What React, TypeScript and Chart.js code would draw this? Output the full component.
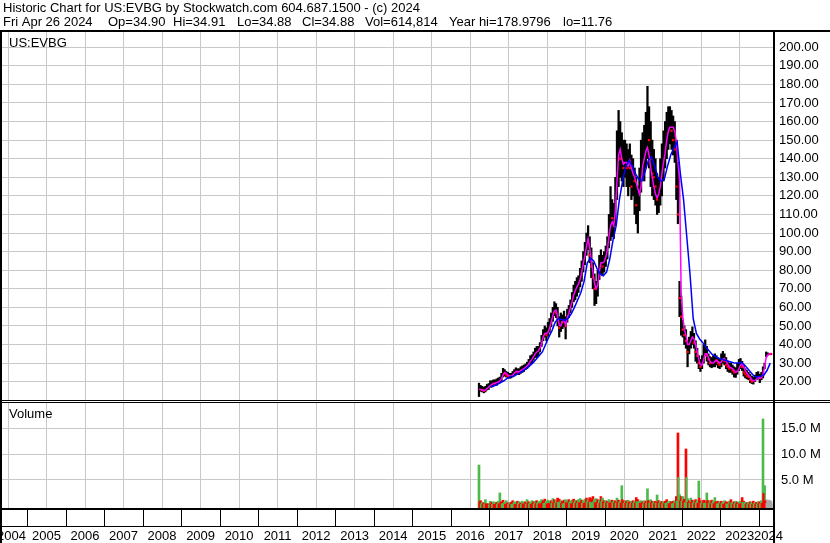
import { useEffect, useRef } from "react";
import { Chart, registerables } from "chart.js";

Chart.register(...registerables);

const FONT = "Arial, 'Liberation Sans', sans-serif";

const headerLine1 = "Historic Chart for US:EVBG by Stockwatch.com 604.687.1500 - (c) 2024";
const quoteItems = ["Fri Apr 26 2024", "Op=34.90", "Hi=34.91", "Lo=34.88", "Cl=34.88", "Vol=614,814", "Year hi=178.9796", "lo=11.76"];
const quoteX = [3, 108, 173, 237, 302, 365, 449, 563];
const symbolLabel = "US:EVBG";
const volumeLabel = "Volume";

const yearLabels = [2004, 2005, 2006, 2007, 2008, 2009, 2010, 2011, 2012, 2013, 2014, 2015, 2016, 2017, 2018, 2019, 2020, 2021, 2022, 2023, 2024];
const priceTicks = [20, 30, 40, 50, 60, 70, 80, 90, 100, 110, 120, 130, 140, 150, 160, 170, 180, 190, 200];
const volumeTicks = [5e6, 10e6, 15e6];

const months = [
  "2016-09", "2016-10", "2016-11", "2016-12",
  "2017-01", "2017-02", "2017-03", "2017-04", "2017-05", "2017-06", "2017-07", "2017-08", "2017-09", "2017-10", "2017-11", "2017-12",
  "2018-01", "2018-02", "2018-03", "2018-04", "2018-05", "2018-06", "2018-07", "2018-08", "2018-09", "2018-10", "2018-11", "2018-12",
  "2019-01", "2019-02", "2019-03", "2019-04", "2019-05", "2019-06", "2019-07", "2019-08", "2019-09", "2019-10", "2019-11", "2019-12",
  "2020-01", "2020-02", "2020-03", "2020-04", "2020-05", "2020-06", "2020-07", "2020-08", "2020-09", "2020-10", "2020-11", "2020-12",
  "2021-01", "2021-02", "2021-03", "2021-04", "2021-05", "2021-06", "2021-07", "2021-08", "2021-09", "2021-10", "2021-11", "2021-12",
  "2022-01", "2022-02", "2022-03", "2022-04", "2022-05", "2022-06", "2022-07", "2022-08", "2022-09", "2022-10", "2022-11", "2022-12",
  "2023-01", "2023-02", "2023-03", "2023-04", "2023-05", "2023-06", "2023-07", "2023-08", "2023-09", "2023-10", "2023-11", "2023-12",
  "2024-01", "2024-02", "2024-03", "2024-04",
];

// two entries (first half / second half) per month
const lows = [
  null, 12.0, 14.8, 14.5, 14.0, 14.5, 15.5, 15.8,
  17.0, 17.5, 18.0, 18.0, 18.0, 19.0, 19.5, 20.5, 22.5, 23.0, 22.5, 22.0, 21.8, 22.0, 22.5, 23.0, 24.0, 24.0, 23.8, 24.5, 25.0, 25.5, 26.5, 27.0,
  28.0, 29.5, 30.0, 31.5, 33.0, 33.0, 34.0, 36.0, 39.0, 42.0, 44.0, 42.0, 44.5, 46.5, 49.5, 52.5, 55.5, 54.5, 50.0, 44.0, 47.0, 48.5, 49.5, 43.0,
  52.0, 54.5, 57.0, 60.0, 63.0, 64.0, 66.0, 68.0, 71.0, 74.0, 79.0, 83.0, 88.0, 91.0, 84.0, 76.0, 70.0, 61.0, 62.0, 66.0, 75.0, 78.0, 77.0, 79.0,
  82.0, 86.0, 92.0, 96.0, 98.0, 97.0, 104.0, 118.0, 125.0, 130.0, 128.0, 125.0, 130.0, 125.0, 120.0, 125.0, 118.0, 120.0, 110.0, 105.0, 100.0, 112.0, 122.0, 130.0,
  128, 135, 140, 135, 125, 120, 118, 115, 110, 111, 115, 120, 128, 135, 140, 145, 148, 145, 142, 138, 118, 105, 55, 45,
  44, 40, 38, 28, 35, 38, 40, 38, 31, 30, 27, 25.5, 27, 30, 34, 31, 29, 28, 27.5, 28, 28, 29, 27.5, 27,
  28, 30, 29, 27, 25.5, 25, 25, 24, 22.5, 22.3, 24, 26, 27, 26, 23, 22, 21.5, 21, 19.5, 19, 18.7, 20, 21, 21.5,
  19.5, 21, 22, 27, 33.5, 34.3, 34.5, 34.6,
];
const highs = [
  null, 19.2, 18.0, 17.5, 17.0, 17.5, 18.5, 19.0,
  20.5, 20.5, 21.0, 21.0, 21.5, 22.0, 22.5, 24.5, 27.2, 26.5, 25.5, 25.0, 24.5, 24.5, 25.5, 26.5, 27.5, 27.0, 27.0, 28.0, 28.5, 29.0, 29.5, 30.5,
  32.0, 34.0, 34.5, 36.0, 38.0, 39.0, 39.0, 41.0, 45.0, 48.0, 50.0, 49.0, 52.0, 54.0, 57.0, 60.0, 63.0, 62.0, 60.0, 55.0, 57.0, 56.0, 58.0, 55.0,
  59.0, 61.0, 64.0, 68.0, 72.0, 74.0, 76.0, 77.0, 81.0, 85.0, 90.0, 95.0, 100.0, 104.0, 98.0, 92.0, 84.0, 78.0, 74.0, 80.0, 88.0, 91.0, 88.0, 90.0,
  93.0, 98.0, 110.0, 125.0, 118.0, 116.0, 130.0, 155.0, 166.0, 160.0, 154.0, 150.0, 150.0, 148.0, 145.0, 148.0, 142.0, 140.0, 135.0, 130.0, 125.0, 135.0, 150.0, 154.0,
  158, 165, 179, 168, 160, 150, 145, 140, 132, 130, 140, 148, 155, 160, 165, 168, 168, 166, 163, 160, 150, 138, 74, 66,
  53, 50, 48, 42, 44, 47, 49.5, 46, 42, 38, 34, 32, 34, 40, 42.5, 39, 35, 33.5, 33, 34, 35, 34, 33, 32,
  35, 36.3, 35, 33, 31, 30, 30, 29, 28, 27.5, 30, 32, 32.5, 31, 29, 27, 26, 25, 24, 23, 22.5, 23.5, 25, 25.4,
  24, 25, 28, 30, 36, 35.5, 35.2, 35.1,
];
const closes = [
  null, 16.0, 16.0, 15.5, 15.0, 16.0, 17.0, 17.5,
  18.8, 19.0, 19.5, 19.0, 20.0, 20.5, 21.0, 23.5, 25.5, 24.5, 23.5, 23.0, 23.0, 23.5, 24.5, 25.5, 26.0, 25.0, 26.0, 26.5, 27.0, 28.0, 28.5, 29.5,
  30.5, 32.0, 33.0, 34.5, 36.0, 37.0, 37.0, 39.5, 43.0, 46.0, 47.0, 45.0, 49.0, 51.0, 55.0, 57.5, 59.5, 57.0, 53.0, 49.0, 54.0, 52.0, 53.0, 50.0,
  57.0, 59.0, 62.0, 65.0, 69.0, 71.0, 72.0, 74.0, 78.0, 82.0, 86.0, 91.0, 96.0, 98.0, 88.0, 82.0, 76.0, 70.0, 70.0, 76.0, 84.0, 86.0, 82.0, 86.0,
  90.0, 95.0, 106.0, 110.0, 108.0, 110.0, 124.0, 140.0, 150.0, 140.0, 140.0, 135.0, 142.0, 135.0, 140.0, 135.0, 125.0, 130.0, 128.0, 115.0, 118.0, 128.0, 145.0, 148.0,
  148, 155, 160, 150, 140, 132, 130, 125, 118, 124, 130, 140, 148, 152, 158, 160, 160, 155, 150, 145, 125, 110, 65, 55,
  48, 45, 42, 36, 40, 44, 45, 41, 36, 34, 30, 28, 31, 36, 38, 34, 32, 30, 30, 31, 32, 31.5, 30, 29,
  33, 34, 31, 29, 28, 27, 27, 26, 25, 25, 28, 30, 30, 28, 25, 24, 23, 22.5, 21, 20, 20.5, 22, 23, 24,
  22, 24, 27, 28.5, 34.5, 34.9, 34.9, 34.88,
];
const fastAverage = [
  null, 16.0, 15.8, 15.5, 15.2, 15.5, 16.3, 17.0,
  17.8, 18.5, 19.0, 19.2, 19.5, 19.8, 20.5, 21.5, 23.5, 25.0, 24.5, 23.5, 23.2, 23.0, 23.5, 24.5, 25.5, 25.5, 25.3, 26.0, 26.5, 27.0, 27.8, 28.5,
  29.5, 31.0, 32.0, 33.5, 35.0, 36.0, 36.5, 38.0, 40.5, 44.0, 46.0, 46.0, 46.5, 49.0, 52.0, 55.5, 58.0, 58.5, 55.0, 50.5, 50.0, 52.5, 53.0, 50.5,
  54.5, 57.0, 60.0, 63.0, 66.5, 69.0, 71.0, 72.5, 75.0, 79.0, 83.5, 88.0, 93.0, 97.0, 92.0, 85.0, 79.0, 73.0, 70.0, 72.0, 79.0, 84.0, 84.0, 84.5,
  87.0, 91.0, 98.0, 104.0, 106.0, 104.0, 112.0, 128.0, 142.0, 145.0, 140.0, 137.0, 138.0, 138.0, 136.0, 139.0, 135.0, 132.0, 130.0, 127.0, 124.0, 121.0, 125.0, 136.0,
  140, 144, 146, 142, 135, 130, 125, 121, 119, 121, 125, 132, 138, 143, 150, 155, 157, 157, 157, 155, 149, 138, 128, 68,
  55, 48, 45, 40, 40, 42, 44, 43, 40, 36, 32, 29, 29, 32, 35, 35, 33, 31, 30, 30, 31, 31.5, 31, 30,
  30.5, 32, 32.5, 31, 29.5, 28, 27.5, 27, 26, 25, 25.5, 27, 29, 29.5, 28, 26, 24.5, 23.5, 22.5, 21, 20.5, 20.5, 21.5, 22.5,
  21.8, 22, 24, 28, 33, 34.5, 35, 35.2,
];
// one entry per month
const slowAverage = [
  null, null, null, null,
  17.0, 17.8, 18.6, 19.5, 20.5, 21.8, 22.6, 23.0, 23.8, 24.8, 25.8, 27.0,
  28.5, 30.0, 32.0, 34.0, 36.0, 40.0, 44.0, 47.5, 52.0, 54.0, 53.5, 53.0,
  54.0, 56.5, 60.0, 64.0, 68.0, 74.0, 84.0, 86.5, 85.0, 81.0, 78.0, 77.0,
  79.0, 86.0, 96.0, 104.0, 118.0, 128.0, 136.0, 139.0, 136.0, 132.0, 129.0, 128.0,
  133.0, 139.0, 141.0, 136.0, 130.0, 128.0, 129.0, 136.0, 142.0, 146.0, 149.0, 132.0,
  118, 98, 78, 54, 46, 43, 41, 38.5, 36.5, 34.5, 33.5, 32.5,
  32, 31.5, 31, 30.5, 30, 30, 30.5, 29, 27, 25, 23, 22.5,
  23, 23.5, 26, 30,
];

// volume in millions, two bars per half-month (larger / smaller)
const volumeLarge = [
  null, 7.9, 1.0, 0.7, 0.6, 1.2, 0.5, 0.4,
  0.9, 0.7, 0.8, 0.6, 0.7, 0.9, 2.5, 0.8, 1.1, 0.7, 1.0, 0.6, 0.6, 0.7, 1.0, 0.8, 0.7, 0.9, 0.8, 0.6, 0.9, 0.7, 0.8, 1.2,
  0.8, 0.7, 1.0, 0.8, 0.9, 1.0, 0.8, 0.9, 1.2, 1.0, 1.3, 0.9, 1.1, 0.9, 1.0, 1.4, 1.2, 1.0, 1.5, 1.3, 1.0, 0.9, 1.1, 1.2,
  1.0, 1.2, 0.9, 1.1, 1.3, 1.0, 1.0, 1.2, 1.4, 1.1, 1.0, 1.3, 1.5, 1.2, 1.6, 1.4, 1.8, 1.3, 1.4, 1.2, 1.1, 1.8, 1.5, 1.0,
  1.0, 0.9, 1.2, 1.0, 1.1, 0.9, 1.0, 1.5, 1.1, 0.9, 3.9, 1.0, 0.9, 1.0, 1.1, 0.8, 0.9, 1.0, 0.9, 1.6, 1.2, 0.9, 1.0, 0.8,
  1.0, 0.9, 3.3, 1.0, 1.2, 0.9, 0.8, 0.9, 2.1, 1.0, 0.9, 0.8, 0.8, 0.9, 1.2, 0.8, 0.9, 0.8, 0.9, 1.0, 1.8, 14.1, 2.2, 1.8,
  1.8, 1.3, 11.0, 1.4, 1.0, 1.5, 1.1, 0.9, 1.2, 1.0, 4.8, 1.0, 0.9, 1.1, 1.0, 2.5, 1.0, 0.9, 1.1, 0.9, 1.6, 0.8, 0.9, 0.8,
  0.9, 0.7, 1.0, 0.8, 0.7, 0.9, 1.2, 0.7, 0.8, 0.9, 0.7, 0.8, 0.9, 1.6, 0.9, 0.7, 0.6, 0.7, 0.8, 0.7, 0.9, 0.6, 0.7, 0.8,
  0.8, 1.0, 16.8, 3.9, 1.2, 1.0, 1.1, 0.9,
];
const volumeSmall = [
  null, 0.8, 0.4, 0.3, 0.3, 0.4, 0.3, 0.2,
  0.4, 0.3, 0.3, 0.3, 0.3, 0.4, 0.6, 0.4, 0.5, 0.3, 0.4, 0.3, 0.3, 0.3, 0.4, 0.3, 0.3, 0.4, 0.3, 0.3, 0.4, 0.3, 0.3, 0.5,
  0.4, 0.3, 0.5, 0.4, 0.4, 0.5, 0.4, 0.4, 0.6, 0.5, 0.6, 0.4, 0.5, 0.4, 0.5, 0.6, 0.5, 0.5, 0.7, 0.6, 0.5, 0.4, 0.5, 0.6,
  0.5, 0.6, 0.4, 0.5, 0.6, 0.5, 0.5, 0.6, 0.6, 0.5, 0.5, 0.6, 0.7, 0.6, 0.7, 0.6, 0.8, 0.6, 0.6, 0.5, 0.5, 0.8, 0.7, 0.5,
  0.5, 0.5, 0.6, 0.5, 0.6, 0.5, 0.5, 0.7, 0.6, 0.5, 1.2, 0.5, 0.5, 0.5, 0.6, 0.4, 0.5, 0.5, 0.5, 0.8, 0.6, 0.5, 0.5, 0.4,
  0.5, 0.5, 1.0, 0.5, 0.6, 0.5, 0.4, 0.5, 0.8, 0.5, 0.5, 0.4, 0.4, 0.5, 0.6, 0.4, 0.5, 0.4, 0.5, 0.5, 0.9, 5.5, 1.0, 0.9,
  0.9, 0.6, 5.5, 0.7, 0.5, 0.7, 0.5, 0.4, 0.6, 0.5, 1.5, 0.5, 0.4, 0.5, 0.5, 1.0, 0.5, 0.4, 0.5, 0.4, 0.7, 0.4, 0.4, 0.4,
  0.4, 0.3, 0.5, 0.4, 0.3, 0.4, 0.5, 0.3, 0.4, 0.4, 0.3, 0.4, 0.4, 0.7, 0.4, 0.3, 0.3, 0.3, 0.4, 0.3, 0.4, 0.3, 0.3, 0.4,
  0.4, 0.5, 2.4, 1.0, 0.5, 0.4, 0.5, 0.4,
];
// colour of the larger bar: g = up, r = down, x = neutral
const volumeDirection = [
  "xgrgrggr",
  "grggrggrrggrgrrggrgrggrg",
  "rggrgrgggrrgggrgrgrrgrrg",
  "grggrgrggrggrgrrrggrgrgr",
  "grggrgrgrggrgrgrgrgrrggr",
  "grgrgrgrgrgrgrrggrrgrrgr",
  "grrgrgrgrggrgrrgrgrggrrg",
  "rggrrgrgrgrggrrgrgrgrgrg",
  "rgggxxxx",
].join("");

const X_MIN = 2004.343;
const X_MAX = 2024.364;

const halfMonthX = (ym: string, half: number) => {
  const [y, m] = ym.split("-").map(Number);
  return y + (m - 1 + (half === 0 ? 0.25 : 0.75)) / 12;
};
const midMonthX = (ym: string) => {
  const [y, m] = ym.split("-").map(Number);
  return y + (m - 0.5) / 12;
};

const COLORS = { g: "#4cba4c", r: "#ff0000", x: "#a8a8a8" } as Record<string, string>;
const opposite = { g: "r", r: "g", x: "x" } as Record<string, string>;

export default function App() {
  const ref = useRef<HTMLCanvasElement>(null);

  useEffect(() => {
    document.body.style.margin = "0";
    const canvas = ref.current;
    if (!canvas) return;

    const xs: number[] = months.flatMap((ym) => [halfMonthX(ym, 0), halfMonthX(ym, 1)]);
    const VOL_MIN = -0.416e6;

    const priceBars: any[] = [];
    const downTicks: any[] = [];
    const fastLine: any[] = [];
    const bigVol: any[] = [];
    const bigVolColors: string[] = [];
    const smallVol: any[] = [];
    const smallVolColors: string[] = [];

    xs.forEach((x, i) => {
      const lo = lows[i];
      const hi = highs[i];
      if (lo != null && hi != null) priceBars.push({ x, y: [lo, hi] });
      const c = closes[i];
      const pc = i > 0 ? closes[i - 1] : null;
      if (c != null && pc != null && c < pc) downTicks.push({ x, y: c });
      if (fastAverage[i] != null) fastLine.push({ x, y: fastAverage[i] });
      const dir = volumeDirection[i];
      if (volumeLarge[i] != null) {
        bigVol.push({ x, y: [VOL_MIN, (volumeLarge[i] as number) * 1e6] });
        bigVolColors.push(COLORS[dir]);
      }
      if (volumeSmall[i] != null) {
        smallVol.push({ x: x + 0.012, y: [VOL_MIN, (volumeSmall[i] as number) * 1e6] });
        smallVolColors.push(COLORS[opposite[dir]]);
      }
    });
    const slowLine = months
      .map((ym, i) => ({ x: midMonthX(ym), y: slowAverage[i] }))
      .filter((p) => p.y != null);

    const overlay = {
      id: "overlay",
      afterDraw(chart: any) {
        const { ctx } = chart;
        const xScale = chart.scales.x;
        ctx.save();
        ctx.fillStyle = "#ffffff";
        ctx.fillRect(2, 400, 771, 3);
        ctx.fillStyle = "#000000";
        ctx.font = `13px ${FONT}`;
        ctx.textBaseline = "alphabetic";
        ctx.textAlign = "left";
        ctx.fillText(headerLine1, 3, 12);
        quoteItems.forEach((t, i) => ctx.fillText(t, quoteX[i], 25.7));
        // year labels
        yearLabels.forEach((yr, i) => {
          const label = String(yr);
          const w = ctx.measureText(label).width;
          let left = xScale.getPixelForValue(yr + 0.5) - w / 2;
          if (i === 0) left = Math.max(left, -3);
          if (i === yearLabels.length - 1) left = xScale.getPixelForValue(yr) - 5;
          ctx.fillText(label, left, 540);
        });
        // frame
        ctx.fillRect(0, 30, 830, 2);
        ctx.fillRect(0, 30, 2, 513);
        ctx.fillRect(773, 30, 2, 513);
        ctx.fillRect(0, 400, 830, 1);
        ctx.fillRect(0, 402, 830, 1);
        ctx.fillRect(0, 508, 775, 2);
        ctx.fillRect(0, 526, 775, 1);
        yearLabels.forEach((yr) => {
          const px = xScale.getPixelForValue(yr);
          if (px > 2 && px < 773) ctx.fillRect(Math.round(px), 510, 1, 16);
        });
        ctx.fillText(symbolLabel, 9, 46.5);
        ctx.fillText(volumeLabel, 9, 418);
        ctx.restore();
      },
    };

    const tickFont = { family: FONT, size: 13 };

    const chart = new Chart(canvas, {
      type: "bar",
      data: {
        datasets: [
          {
            type: "line",
            data: slowLine,
            borderColor: "#0000ff",
            borderWidth: 1.5,
            pointRadius: 0,
            tension: 0,
            yAxisID: "y",
            order: 1,
          } as any,
          {
            type: "line",
            data: fastLine,
            borderColor: "#ff00ff",
            borderWidth: 1.5,
            pointRadius: 0,
            tension: 0,
            yAxisID: "y",
            order: 2,
          } as any,
          {
            type: "scatter",
            data: downTicks,
            pointStyle: "rect",
            pointRadius: 1.6,
            backgroundColor: "#ff0000",
            borderWidth: 0,
            yAxisID: "y",
            order: 3,
          } as any,
          {
            type: "bar",
            data: priceBars,
            backgroundColor: "#000000",
            barThickness: 1.6,
            grouped: false,
            borderWidth: 0,
            yAxisID: "y",
            order: 4,
          } as any,
          {
            type: "bar",
            data: smallVol,
            backgroundColor: smallVolColors,
            barThickness: 1.6,
            grouped: false,
            borderWidth: 0,
            yAxisID: "vol",
            order: 5,
          } as any,
          {
            type: "bar",
            data: bigVol,
            backgroundColor: bigVolColors,
            barThickness: 2,
            grouped: false,
            borderWidth: 0,
            yAxisID: "vol",
            order: 6,
          } as any,
        ],
      },
      options: {
        responsive: false,
        animation: false,
        events: [],
        layout: { padding: { top: 32, left: 2, right: 0, bottom: 0 }, autoPadding: false } as any,
        plugins: { legend: { display: false }, tooltip: { enabled: false }, title: { display: false } },
        scales: {
          x: {
            type: "linear",
            min: X_MIN,
            max: X_MAX,
            offset: false,
            afterBuildTicks: (s: any) => {
              s.ticks = yearLabels.slice(1).map((v) => ({ value: v }));
            },
            ticks: { display: false },
            grid: { color: "#c8c8c8", lineWidth: 1, drawTicks: false },
            border: { display: false },
            afterFit: (s: any) => {
              s.height = 35;
            },
          },
          y: {
            type: "linear",
            position: "right",
            stack: "panes",
            stackWeight: 369,
            min: 9.61,
            max: 208.2,
            afterBuildTicks: (s: any) => {
              s.ticks = priceTicks.map((v) => ({ value: v }));
            },
            ticks: {
              autoSkip: false,
              color: "#000000",
              font: tickFont,
              padding: 6,
              callback: (v: any) => Number(v).toFixed(2),
            },
            grid: { color: "#c8c8c8", lineWidth: 1, drawTicks: false },
            border: { display: false },
            afterFit: (s: any) => {
              s.width = 57;
            },
          },
          vol: {
            type: "linear",
            position: "right",
            stack: "panes",
            stackWeight: 107,
            min: VOL_MIN,
            max: 20.28e6,
            afterBuildTicks: (s: any) => {
              s.ticks = volumeTicks.map((v) => ({ value: v }));
            },
            ticks: {
              autoSkip: false,
              color: "#000000",
              font: tickFont,
              padding: 8,
              callback: (v: any) => (Number(v) / 1e6).toFixed(1) + " M",
            },
            grid: { color: "#c8c8c8", lineWidth: 1, drawTicks: false },
            border: { display: false },
            afterFit: (s: any) => {
              s.width = 57;
            },
          },
        } as any,
      },
      plugins: [overlay],
    } as any);

    return () => chart.destroy();
  }, []);

  return (
    <canvas
      ref={ref}
      width={830}
      height={543}
      style={{ display: "block", width: 830, height: 543, background: "#ffffff" }}
    />
  );
}
